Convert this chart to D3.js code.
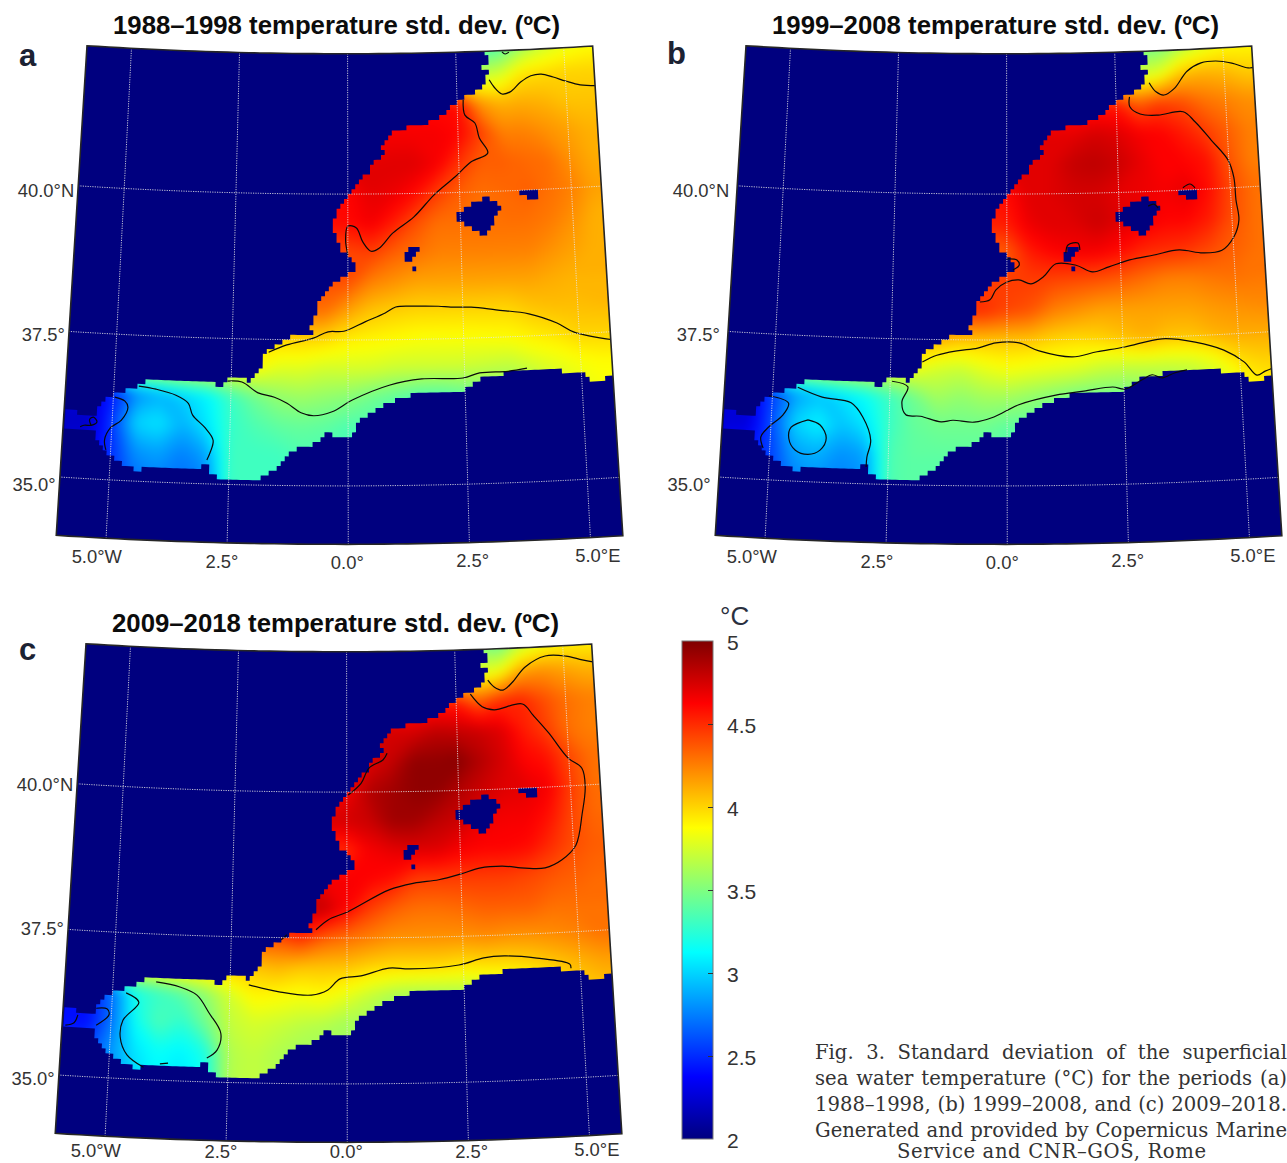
<!DOCTYPE html>
<html>
<head>
<meta charset="utf-8">
<script src="https://d3js.org/d3.v7.min.js"></script>
<style>
  html, body { margin: 0; background: #fff; overflow: hidden; }
  text { font-family: 'Liberation Sans', Arial, sans-serif; }
</style>
</head>
<body>
<div id="chart"></div>
<script>
const width = 1287;
const height = 1163;

// grid of the temperature fields (deg), land cells hold the nearest sea value
const gridLons = d3.range(-6, 6.01, 0.5);
const gridLats = d3.range(42.5, 34.99, -0.5);
const colorbarTicks = [2, 2.5, 3, 3.5, 4, 4.5, 5];
const meridians = [-5, -2.5, 0, 2.5, 5];
const meridianLabels = ['5.0°W', '2.5°', '0.0°', '2.5°', '5.0°E'];
const parallels = [35, 37.5, 40];
const parallelLabels = ['35.0°', '37.5°', '40.0°N'];
const titles = ['1988–1998 temperature std. dev. (ºC)', '1999–2008 temperature std. dev. (ºC)', '2009–2018 temperature std. dev. (ºC)'];
const letters = ['a', 'b', 'c'];
const caption = [
  'Fig. 3. Standard deviation of the superficial',
  'sea water temperature (°C) for the periods (a)',
  '1988–1998, (b) 1999–2008, and (c) 2009–2018.',
  'Generated and provided by Copernicus Marine',
  'Service and CNR–GOS, Rome'
];

const coast = [[3.15,42.39],[3.14,42.30],[3.29,42.28],[3.28,42.21],[3.12,42.20],[3.12,42.10],[3.21,42.03],[3.20,41.86],[2.98,41.76],[2.64,41.58],[2.40,41.50],[2.22,41.33],[1.96,41.22],[1.41,41.14],[1.03,41.06],
  [0.75,40.80],[0.84,40.67],[0.61,40.55],[0.43,40.33],[0.21,40.16],[0.00,39.95],[-0.17,39.76],[-0.31,39.52],[-0.31,39.33],[-0.17,39.08],[0.00,38.91],[0.19,38.75],[0.00,38.61],[-0.44,38.41],[-0.47,38.32],
  [-0.63,38.13],[-0.70,37.93],[-0.82,37.72],[-0.78,37.62],[-1.23,37.56],[-1.49,37.44],[-1.77,37.28],[-1.85,37.06],[-2.10,36.75],[-2.27,36.83],[-2.54,36.82],[-2.71,36.67],[-2.89,36.75],[-3.59,36.75],
  [-4.43,36.70],[-4.47,36.61],[-4.97,36.49],[-5.28,36.31],[-5.31,36.06],[-5.73,36.11],[-6.00,36.19],[-5.97,35.81],[-5.67,35.83],[-5.33,35.81],[-5.27,35.62],[-5.04,35.42],[-4.81,35.30],[-4.47,35.19],
  [-3.70,35.27],[-3.17,35.23],[-2.97,35.41],[-2.89,35.15],[-2.48,35.09],[-1.89,35.10],[-1.45,35.32],[-1.20,35.61],[-0.59,35.75],[-0.43,35.92],[-0.21,35.80],[0.00,35.82],[0.27,36.13],[0.87,36.43],[1.32,36.55],
  [2.20,36.62],[2.45,36.61],[2.91,36.81],[3.80,36.94],[5.01,36.84],[5.26,36.64],[5.72,36.81],[6.47,36.77],[7.02,42.61],[3.16,42.76]];
const islands = [
  [[2.88,39.86],[3.17,39.89],[3.43,39.71],[3.29,39.56],[3.15,39.34],[3.01,39.26],[2.73,39.40],[2.51,39.49],[2.38,39.58],[2.57,39.73]],
  [[3.81,40.02],[4.19,40.03],[4.28,39.79],[4.13,39.86],[3.80,39.92]],
  [[1.46,39.12],[1.57,39.08],[1.50,38.91],[1.37,38.84],[1.20,38.92],[1.33,39.07]],
  [[1.41,38.66],[1.45,38.74],[1.52,38.65]]
];

const fieldA = [
  [3.3,3.3,3.3,3.3,3.3,3.3,3.3,3.3,3.3,3.3,3.3,3.3,3.3,3.3,3.3,3.3,3.3,3.3,3.3,3.35,3.55,3.7,3.8,3.85,3.85],
  [3.7,3.7,3.7,3.7,3.7,3.7,3.7,3.7,3.7,3.7,3.7,3.7,3.7,3.7,3.7,3.7,3.7,3.7,3.7,3.75,3.95,3.98,4,4,4],
  [4.6,4.6,4.6,4.6,4.6,4.6,4.6,4.6,4.6,4.6,4.6,4.6,4.6,4.6,4.6,4.6,4.6,4.6,4.2,4.1,4.12,4.1,4.05,4.05,4.05],
  [4.65,4.65,4.65,4.65,4.65,4.65,4.65,4.65,4.65,4.65,4.65,4.65,4.65,4.65,4.65,4.65,4.65,4.62,4.45,4.25,4.25,4.2,4.15,4.1,4.1],
  [4.7,4.7,4.7,4.7,4.7,4.7,4.7,4.7,4.7,4.7,4.7,4.7,4.7,4.7,4.72,4.72,4.65,4.48,4.35,4.35,4.32,4.3,4.2,4.12,4.12],
  [4.6,4.6,4.6,4.6,4.6,4.6,4.6,4.6,4.6,4.6,4.6,4.6,4.62,4.7,4.68,4.6,4.45,4.35,4.3,4.32,4.35,4.3,4.25,4.15,4.15],
  [4.6,4.6,4.6,4.6,4.6,4.6,4.6,4.6,4.6,4.6,4.6,4.6,4.6,4.66,4.55,4.4,4.3,4.3,4.3,4.3,4.3,4.27,4.2,4.1,4.1],
  [4.4,4.4,4.4,4.4,4.4,4.4,4.4,4.4,4.4,4.4,4.4,4.4,4.42,4.45,4.35,4.3,4.25,4.25,4.25,4.25,4.25,4.2,4.15,4.1,4.1],
  [4.4,4.4,4.4,4.4,4.4,4.4,4.4,4.4,4.4,4.4,4.4,4.4,4.4,4.25,4.2,4.15,4.15,4.15,4.15,4.15,4.15,4.12,4.1,4.1,4.1],
  [4.3,4.3,4.3,4.3,4.3,4.3,4.3,4.3,4.3,4.3,4.3,4.3,4.15,4.05,4.02,4,4,4,4,4,4.05,4.07,4.07,4.08,4.08],
  [4,4,4,4,4,4,4,4,4,4,4,3.98,3.92,3.9,3.88,3.86,3.86,3.86,3.87,3.88,3.92,3.95,4,4,4],
  [3.88,3.88,3.88,3.88,3.88,3.88,3.88,3.88,3.88,3.78,3.78,3.74,3.75,3.75,3.72,3.72,3.72,3.72,3.7,3.68,3.75,3.8,3.85,3.88,3.88],
  [2.3,2.3,2.45,2.8,2.9,3,3.1,3.3,3.45,3.55,3.58,3.55,3.52,3.45,3.4,3.35,3.35,3.4,3.45,3.5,3.55,3.7,3.8,3.85,3.85],
  [2.2,2.2,2.55,3,3.05,2.9,3.05,3.28,3.35,3.4,3.42,3.4,3.35,3.35,3.35,3.35,3.35,3.35,3.35,3.35,3.35,3.35,3.35,3.35,3.35],
  [2.3,2.3,2.5,2.8,2.85,2.75,2.85,3.3,3.3,3.3,3.35,3.35,3.35,3.35,3.35,3.35,3.35,3.35,3.35,3.35,3.35,3.35,3.35,3.35,3.35],
  [2.5,2.5,2.5,2.7,2.75,2.7,2.75,3.3,3.3,3.3,3.35,3.35,3.35,3.35,3.35,3.35,3.35,3.35,3.35,3.35,3.35,3.35,3.35,3.35,3.35]
];
const fieldB = [
  [3.45,3.45,3.45,3.45,3.45,3.45,3.45,3.45,3.45,3.45,3.45,3.45,3.45,3.45,3.45,3.45,3.45,3.45,3.45,3.45,3.6,3.75,3.85,3.88,3.88],
  [3.75,3.75,3.75,3.75,3.75,3.75,3.75,3.75,3.75,3.75,3.75,3.75,3.75,3.75,3.75,3.75,3.75,3.75,3.75,3.8,4.05,4.1,4.08,4.02,4.02],
  [4.55,4.55,4.55,4.55,4.55,4.55,4.55,4.55,4.55,4.55,4.55,4.55,4.55,4.55,4.55,4.55,4.55,4.55,4.35,4.45,4.4,4.3,4.25,4.2,4.2],
  [4.7,4.7,4.7,4.7,4.7,4.7,4.7,4.7,4.7,4.7,4.7,4.7,4.7,4.7,4.7,4.7,4.75,4.72,4.65,4.62,4.55,4.45,4.35,4.25,4.25],
  [4.7,4.7,4.7,4.7,4.7,4.7,4.7,4.7,4.7,4.7,4.7,4.7,4.7,4.7,4.72,4.8,4.82,4.78,4.7,4.62,4.62,4.58,4.38,4.25,4.25],
  [4.6,4.6,4.6,4.6,4.6,4.6,4.6,4.6,4.6,4.6,4.6,4.6,4.6,4.72,4.72,4.75,4.75,4.7,4.68,4.65,4.7,4.6,4.42,4.3,4.3],
  [4.55,4.55,4.55,4.55,4.55,4.55,4.55,4.55,4.55,4.55,4.55,4.55,4.55,4.68,4.72,4.72,4.78,4.72,4.68,4.62,4.62,4.55,4.4,4.3,4.3],
  [4.35,4.35,4.35,4.35,4.35,4.35,4.35,4.35,4.35,4.35,4.35,4.35,4.35,4.55,4.62,4.65,4.65,4.6,4.52,4.5,4.48,4.42,4.35,4.3,4.3],
  [4.45,4.45,4.45,4.45,4.45,4.45,4.45,4.45,4.45,4.45,4.45,4.45,4.45,4.45,4.42,4.4,4.38,4.35,4.3,4.25,4.25,4.28,4.3,4.28,4.28],
  [4.5,4.5,4.5,4.5,4.5,4.5,4.5,4.5,4.5,4.5,4.5,4.5,4.42,4.38,4.25,4.2,4.15,4.15,4.15,4.15,4.15,4.18,4.2,4.22,4.22],
  [4.1,4.1,4.1,4.1,4.1,4.1,4.1,4.1,4.1,4.1,4.05,4.05,4.05,4.05,4,3.98,4,4.05,4.1,4.05,4.05,4.1,4.12,4.12,4.12],
  [3.85,3.85,3.85,3.85,3.85,3.85,3.85,3.85,3.85,3.75,3.72,3.8,3.85,3.82,3.8,3.78,3.72,3.7,3.7,3.7,3.72,3.8,3.95,4,4],
  [2.3,2.3,2.55,2.85,2.95,3.05,3.15,3.3,3.45,3.6,3.55,3.6,3.6,3.55,3.5,3.45,3.45,3.45,3.5,3.55,3.6,3.7,3.8,3.9,3.9],
  [2.25,2.25,2.6,3,3.1,2.95,3.05,3.3,3.42,3.45,3.45,3.45,3.4,3.4,3.4,3.4,3.4,3.4,3.4,3.4,3.4,3.4,3.4,3.4,3.4],
  [2.4,2.4,2.55,2.85,2.9,2.8,2.85,3.35,3.4,3.4,3.4,3.4,3.4,3.4,3.4,3.4,3.4,3.4,3.4,3.4,3.4,3.4,3.4,3.4,3.4],
  [2.55,2.55,2.55,2.75,2.8,2.75,2.8,3.35,3.4,3.4,3.4,3.4,3.4,3.4,3.4,3.4,3.4,3.4,3.4,3.4,3.4,3.4,3.4,3.4,3.4]
];
const fieldC = [
  [3.5,3.5,3.5,3.5,3.5,3.5,3.5,3.5,3.5,3.5,3.5,3.5,3.5,3.5,3.5,3.5,3.5,3.5,3.5,3.4,3.65,3.8,3.88,3.9,3.9],
  [3.8,3.8,3.8,3.8,3.8,3.8,3.8,3.8,3.8,3.8,3.8,3.8,3.8,3.8,3.8,3.8,3.8,3.8,3.8,3.85,4.15,4.2,4.15,4.1,4.1],
  [4.55,4.55,4.55,4.55,4.55,4.55,4.55,4.55,4.55,4.55,4.55,4.55,4.55,4.55,4.55,4.55,4.55,4.55,4.35,4.5,4.52,4.4,4.3,4.25,4.25],
  [4.75,4.75,4.75,4.75,4.75,4.75,4.75,4.75,4.75,4.75,4.75,4.75,4.75,4.75,4.75,4.75,4.82,4.8,4.78,4.72,4.55,4.45,4.3,4.25,4.25],
  [4.72,4.72,4.72,4.72,4.72,4.72,4.72,4.72,4.72,4.72,4.72,4.72,4.72,4.72,4.8,4.95,4.95,4.98,4.85,4.75,4.62,4.58,4.42,4.3,4.3],
  [4.65,4.65,4.65,4.65,4.65,4.65,4.65,4.65,4.65,4.65,4.65,4.65,4.65,4.85,4.9,4.95,4.95,4.85,4.78,4.72,4.7,4.65,4.45,4.3,4.3],
  [4.75,4.75,4.75,4.75,4.75,4.75,4.75,4.75,4.75,4.75,4.75,4.75,4.75,4.78,4.9,4.9,4.82,4.78,4.68,4.65,4.65,4.58,4.42,4.32,4.32],
  [4.5,4.5,4.5,4.5,4.5,4.5,4.5,4.5,4.5,4.5,4.5,4.5,4.5,4.65,4.7,4.72,4.72,4.65,4.62,4.62,4.6,4.5,4.4,4.35,4.35],
  [4.65,4.65,4.65,4.65,4.65,4.65,4.65,4.65,4.65,4.65,4.65,4.65,4.65,4.62,4.58,4.45,4.45,4.45,4.45,4.45,4.42,4.38,4.35,4.32,4.32],
  [4.8,4.8,4.8,4.8,4.8,4.8,4.8,4.8,4.8,4.8,4.8,4.8,4.62,4.45,4.35,4.3,4.3,4.32,4.35,4.35,4.35,4.3,4.3,4.3,4.3],
  [4.4,4.4,4.4,4.4,4.4,4.4,4.4,4.4,4.4,4.4,4.5,4.35,4.3,4.25,4.2,4.2,4.2,4.2,4.22,4.2,4.2,4.22,4.25,4.3,4.3],
  [4.05,4.05,4.05,4.05,4.05,4.05,4.05,4.05,4.05,4.1,4.05,4.05,4.05,4,3.98,3.98,3.98,3.95,3.97,3.97,4,4.05,4.1,4.15,4.15],
  [2.45,2.45,2.7,3.2,3.3,3.4,3.55,3.75,3.9,3.88,3.85,3.88,3.8,3.7,3.62,3.6,3.6,3.62,3.65,3.7,3.75,3.85,4,4.05,4.05],
  [2.4,2.4,2.7,3.15,3.35,3.25,3.45,3.7,3.75,3.72,3.68,3.65,3.6,3.6,3.6,3.6,3.6,3.6,3.6,3.6,3.6,3.6,3.6,3.6,3.6],
  [2.55,2.55,2.8,3.05,3.15,3.1,3.2,3.65,3.7,3.65,3.6,3.6,3.6,3.6,3.6,3.6,3.6,3.6,3.6,3.6,3.6,3.6,3.6,3.6,3.6],
  [2.7,2.7,2.8,3,3.1,3.05,3.15,3.65,3.7,3.65,3.6,3.6,3.6,3.6,3.6,3.6,3.6,3.6,3.6,3.6,3.6,3.6,3.6,3.6,3.6]
];

// traced isolines at 0.5 degC intervals, lon/lat
const isolinesA = [
  [[3.57,42.38],[3.64,42.34],[3.73,42.37]],
  [[3.25,41.91],[3.36,41.78],[3.53,41.66],[3.72,41.69],[3.97,41.85],[4.21,41.95],[4.45,41.97],[4.72,41.91],[5.00,41.83],[5.33,41.75],[5.69,41.72]],
  [[2.64,41.58],[2.67,41.32],[2.89,41.18],[2.98,40.92],[3.16,40.66],[2.78,40.52],[2.41,40.27],[1.93,39.97],[1.47,39.60],[1.00,39.33],[0.69,39.07],[0.51,39.02],[0.33,39.18],[0.19,39.42],[0.00,39.45],[-0.05,39.21],[0.00,38.96]],
  [[-1.71,37.28],[-1.32,37.41],[-0.75,37.53],[-0.43,37.64],[-0.09,37.65],[0.37,37.81],[0.81,37.96],[1.04,38.06],[1.44,38.07],[1.97,38.06],[2.24,38.04],[2.68,38.03],[3.22,37.97],[3.93,37.88],[4.53,37.70],[4.89,37.53],[5.72,37.36]],
  [[-2.58,36.77],[-2.27,36.76],[-1.92,36.58],[-1.57,36.51],[-1.30,36.41],[-1.00,36.25],[-0.73,36.20],[-0.34,36.27],[0.09,36.47],[0.88,36.72],[1.58,36.82],[2.46,36.82],[2.82,36.90],[3.43,36.91],[3.84,36.95]],
  [[-4.47,36.63],[-4.10,36.59],[-3.67,36.50],[-3.40,36.37],[-3.30,36.17],[-3.03,35.96],[-2.85,35.75],[-2.91,35.53],[-2.97,35.41]],
  [[-4.97,36.42],[-4.75,36.36],[-4.68,36.26],[-4.81,36.03],[-5.03,35.89],[-5.14,35.68],[-5.10,35.51]],
  [[-5.67,35.88],[-5.59,35.91],[-5.42,35.92],[-5.32,35.98],[-5.40,36.06],[-5.48,36.01],[-5.44,35.92]]
];
const isolinesB = [
  [[3.27,41.86],[3.42,41.70],[3.60,41.64],[3.85,41.75],[4.15,42.03],[4.48,42.16],[4.82,42.18],[5.19,42.13],[5.56,42.03],[5.74,42.04]],
  [[2.81,41.63],[2.81,41.46],[3.04,41.33],[3.45,41.30],[4.02,41.34],[4.28,41.16],[4.63,40.83],[4.98,40.48],[5.09,40.18],[5.11,39.79],[5.15,39.44],[5.02,39.16],[4.74,38.94],[4.32,38.91],[3.80,38.98],
   [3.24,38.91],[2.70,38.84],[2.24,38.73],[1.88,38.65],[1.52,38.77],[1.08,38.80],[0.80,38.58],[0.53,38.46],[0.26,38.53],[-0.01,38.49],[-0.24,38.36],[-0.37,38.19],[-0.59,38.15]],
  [[1.30,38.98],[1.35,39.12],[1.57,39.15],[1.61,39.03]],
  [[-0.01,38.89],[0.22,38.87],[0.27,38.78],[0.13,38.70]],
  [[3.94,40.04],[4.10,40.10],[4.21,40.03]],
  [[3.15,39.75],[3.28,39.78],[3.37,39.71]],
  [[-1.82,37.11],[-1.51,37.23],[-1.08,37.31],[-0.63,37.36],[-0.24,37.45],[0.26,37.45],[0.69,37.31],[1.40,37.20],[1.94,37.28],[2.54,37.35],[3.35,37.47],[4.06,37.39],[4.67,37.23],[5.09,37.01],[5.35,36.77],[5.53,36.83],[5.75,36.89]],
  [[-2.46,36.77],[-2.12,36.68],[-2.24,36.42],[-2.15,36.20],[-1.84,36.18],[-1.40,36.09],[-1.15,36.12],[-0.70,36.09],[-0.28,36.18],[0.25,36.39],[1.04,36.55],[1.64,36.61],[2.26,36.67],[2.52,36.63],[2.89,36.78],
   [3.11,36.86],[3.32,36.80],[3.60,36.88],[3.86,36.92]],
  [[-4.47,36.61],[-3.94,36.46],[-3.32,36.38],[-3.06,36.14],[-2.88,35.75],[-2.95,35.46],[-2.96,35.29]],
  [[-5.07,36.44],[-4.65,36.33],[-4.76,36.12],[-5.04,35.91],[-5.20,35.73],[-5.14,35.54]],
  [[-4.22,36.06],[-3.96,35.98],[-3.82,35.76],[-3.94,35.55],[-4.19,35.47],[-4.46,35.53],[-4.61,35.73],[-4.57,35.92],[-4.22,36.06]]
];
const isolinesC = [
  [[3.24,41.87],[3.38,41.75],[3.58,41.69],[3.79,41.81],[4.11,42.07],[4.58,42.24],[5.06,42.22],[5.43,42.14],[5.70,42.09]],
  [[2.83,41.64],[3.09,41.42],[3.36,41.36],[4.01,41.44],[4.24,41.24],[4.58,40.92],[4.98,40.48],[5.28,40.29],[5.33,39.97],[5.23,39.52],[5.05,38.98],[4.72,38.74],[4.35,38.62],[3.91,38.63],[3.41,38.68],
   [2.91,38.66],[2.50,38.57],[2.01,38.48],[1.47,38.43],[0.92,38.32],[0.02,37.95],[-0.41,37.81],[-0.67,37.64]],
  [[-1.30,37.55],[-1.42,37.46]],
  [[0.91,40.66],[0.82,40.55],[0.50,40.41],[0.32,40.15],[0.03,39.95]],
  [[-2.10,36.68],[-1.45,36.57],[-0.76,36.52],[-0.41,36.61],[-0.15,36.80],[0.30,36.85],[0.90,36.98],[1.35,36.96],[2.40,37.01],[2.94,37.12],[3.38,37.14],[4.08,37.08],[4.78,36.95],[4.80,36.88]],
  [[-4.08,36.68],[-3.57,36.61],[-3.20,36.48],[-2.93,36.18],[-2.67,35.84],[-2.74,35.55],[-2.95,35.41]],
  [[-4.71,36.47],[-4.43,36.32],[-4.75,36.00],[-4.79,35.71],[-4.63,35.41],[-4.27,35.21]],
  [[-3.93,35.28],[-3.76,35.30]],
  [[-5.33,36.18],[-5.10,36.18],[-5.05,36.08],[-5.31,35.89]],
  [[-5.96,35.86],[-5.78,35.91],[-5.71,36.05]]
];

const fields = [fieldA, fieldB, fieldC];
const isolines = [isolinesA, isolinesB, isolinesC];
const panelOrigins = [[0, 0], [659, 0], [-1, 598]];
const labelShifts = [[0, 0], [-4, 0], [0, -4]];
const titleStarts = [[113, 34], [772, 34], [112, 632]];
const letterStarts = [[19, 66], [667, 64], [19, 660]];
const parallelLabelDy = [9, 5, 7];

const navy = '#00007f';
const jet = d3.scaleLinear()
  .domain([2, 2.375, 3.125, 3.875, 4.625, 5])
  .range(['#00007f', '#0000ff', '#00ffff', '#ffff00', '#ff0000', '#7f0000'])
  .clamp(true);

const projection = d3.geoConicConformal()
  .parallels([35, 40])
  .rotate([0.125, 0])
  .center([0, 37.5])
  .scale(3346)
  .translate([342.2, 340]);

const frameExtent = [[-6.03, 34], [5.67, 42.4]];
const outline = d3.geoGraticule().extent(frameExtent).precision(0.25).outline().coordinates[0];
const geoLine = d3.line().x((d) => projection(d)[0]).y((d) => projection(d)[1]);
const isoPath = d3.line().curve(d3.curveCatmullRom.alpha(0.5))
  .x((d) => projection(d)[0]).y((d) => projection(d)[1]);

// the model grid shows as blocks along the shore, so snap outlines to its cells
const cell = 1 / 12;
const staircase = (pts) => {
  const out = [];
  let prev = null;
  pts.forEach((p, i) => {
    const q = pts[(i + 1) % pts.length];
    const steps = Math.ceil(Math.hypot(q[0] - p[0], q[1] - p[1]) / 0.02);
    d3.range(steps).forEach((s) => {
      const lon = Math.round((p[0] + (q[0] - p[0]) * s / steps) / cell) * cell;
      const lat = Math.round((p[1] + (q[1] - p[1]) * s / steps) / cell) * cell;
      if (prev && prev[0] !== lon && prev[1] !== lat) out.push([lon, prev[1]]);
      if (!prev || prev[0] !== lon || prev[1] !== lat) out.push([lon, lat]);
      prev = [lon, lat];
    });
  });
  return out;
};

const cellPath = d3.geoPath(d3.geoTransform({
  point(x, y) {
    const p = projection([gridLons[0] + (x - 0.5) * 0.5, gridLats[0] - (y - 0.5) * 0.5]);
    this.stream.point(p[0], p[1]);
  }
}));
const bands = d3.range(2, 5.001, 0.02);
const contourMaker = d3.contours().size([gridLons.length, gridLats.length]).thresholds(bands);

const svg = d3.select('#chart').append('svg')
  .attr('width', width)
  .attr('height', height)
  .attr('viewBox', [0, 0, width, height]);

const defs = svg.append('defs');
defs.append('clipPath').attr('id', 'frame-clip').append('path').attr('d', geoLine(outline));
defs.append('clipPath').attr('id', 'sea-clip').append('path').attr('d', geoLine(staircase(coast)) + 'Z');
const blur = defs.append('filter').attr('id', 'soften')
  .attr('x', '-5%').attr('y', '-5%').attr('width', '110%').attr('height', '110%')
  .attr('color-interpolation-filters', 'sRGB');
blur.append('feGaussianBlur').attr('stdDeviation', 6).attr('edgeMode', 'duplicate');

fields.forEach((field, i) => {
  const g = svg.append('g').attr('transform', `translate(${panelOrigins[i]})`);
  g.append('path').attr('d', geoLine(outline) + 'Z').attr('fill', navy);

  const inner = g.append('g').attr('clip-path', 'url(#frame-clip)');
  const sea = inner.append('g').attr('clip-path', 'url(#sea-clip)');
  sea.append('g').attr('filter', 'url(#soften)')
    .selectAll('path')
    .data(contourMaker(field.flat()))
    .join('path')
    .attr('d', cellPath)
    .attr('fill', (d) => jet(d.value + 0.01));

  inner.append('g').selectAll('path').data(islands).join('path')
    .attr('d', (d) => geoLine(staircase(d)) + 'Z')
    .attr('fill', navy);

  inner.append('g').attr('fill', 'none').attr('stroke', '#0a0a0a').attr('stroke-width', 1.2)
    .selectAll('path').data(isolines[i]).join('path')
    .attr('d', isoPath);

  const dots = inner.append('g').attr('fill', 'none').attr('stroke', '#e6e6e6')
    .attr('stroke-width', 1).attr('stroke-dasharray', '1.2 1.2').attr('opacity', 0.85);
  dots.selectAll('.mer').data(meridians).join('path').attr('class', 'mer')
    .attr('d', (lon) => geoLine([[lon, frameExtent[0][1]], [lon, frameExtent[1][1]]]));
  dots.selectAll('.par').data(parallels).join('path').attr('class', 'par')
    .attr('d', (lat) => geoLine(d3.range(-6.25, 5.76, 0.25).map((lon) => [lon, lat])));

  g.append('path').attr('d', geoLine(outline) + 'Z')
    .attr('fill', 'none').attr('stroke', '#262626').attr('stroke-width', 1.6);

  const labels = g.append('g')
    .attr('transform', `translate(${labelShifts[i]})`)
    .attr('font-size', 18.4).attr('fill', '#333');
  const lonLabelY = (lon) => projection([lon, 33.66])[1];
  labels.selectAll('.lon').data(meridians).join('text').attr('class', 'lon')
    .attr('text-anchor', 'middle').attr('dominant-baseline', 'middle')
    .attr('x', (lon) => projection([lon * 1.03 - 0.02, 33.66])[0])
    .attr('y', (lon) => Math.min(lonLabelY(lon), 1153 - panelOrigins[i][1] - labelShifts[i][1]))
    .text((d, j) => meridianLabels[j]);
  labels.selectAll('.lat').data(parallels).join('text').attr('class', 'lat')
    .attr('text-anchor', 'end').attr('dominant-baseline', 'middle')
    .attr('x', (lat) => projection([-6.12, lat])[0])
    .attr('y', (lat, j) => projection([-6.12, lat])[1] + parallelLabelDy[j])
    .text((d, j) => parallelLabels[j]);

  svg.append('text')
    .attr('x', titleStarts[i][0]).attr('y', titleStarts[i][1])
    .attr('font-size', 25).attr('font-weight', 'bold').attr('fill', '#0c0c0c')
    .attr('textLength', 447).attr('lengthAdjust', 'spacingAndGlyphs')
    .text(titles[i]);
  svg.append('text')
    .attr('x', letterStarts[i][0]).attr('y', letterStarts[i][1])
    .attr('font-size', 31).attr('font-weight', 'bold').attr('fill', '#1c2233')
    .text(letters[i]);
});

// colour bar
const barScale = d3.scaleLinear().domain([2, 5]).range([1139, 641]);
const gradient = defs.append('linearGradient').attr('id', 'jet-bar')
  .attr('x1', 0).attr('y1', 1).attr('x2', 0).attr('y2', 0);
gradient.selectAll('stop').data(jet.domain()).join('stop')
  .attr('offset', (d) => (d - 2) / 3)
  .attr('stop-color', (d) => jet(d));
svg.append('rect')
  .attr('x', 682).attr('y', barScale(5))
  .attr('width', 31).attr('height', barScale(2) - barScale(5))
  .attr('fill', 'url(#jet-bar)').attr('stroke', '#777').attr('stroke-width', 1);
const barAxis = svg.append('g').attr('transform', 'translate(713,0)')
  .call(d3.axisRight(barScale).tickValues(colorbarTicks).tickSize(-5).tickPadding(14).tickFormat(d3.format('')));
barAxis.select('.domain').remove();
barAxis.selectAll('.tick line').attr('stroke', '#333')
  .filter((d) => d === 2 || d === 5).remove();
barAxis.selectAll('.tick text')
  .attr('font-size', 21).attr('fill', '#333')
  .attr('font-family', "'Liberation Sans', Arial, sans-serif")
  .attr('dy', '0.42em');
svg.append('text').attr('x', 720).attr('y', 625)
  .attr('font-size', 26).attr('fill', '#2a3040').text('°C');

// caption, justified like the journal column
const capG = svg.append('g').attr('fill', '#333').attr('font-size', 19.6);
caption.forEach((line, i) => {
  const t = capG.append('text')
    .style('font-family', "'DejaVu Serif', serif")
    .attr('y', i < 4 ? 1059 + i * 26 : 1158)
    .text(line);
  if (i < 4) {
    const gaps = line.split(' ').length - 1;
    t.attr('x', 815).attr('word-spacing', (472 - t.node().getComputedTextLength()) / gaps);
  } else {
    t.attr('x', 897).attr('textLength', 309).attr('lengthAdjust', 'spacing');
  }
});
</script>
</body>
</html>
